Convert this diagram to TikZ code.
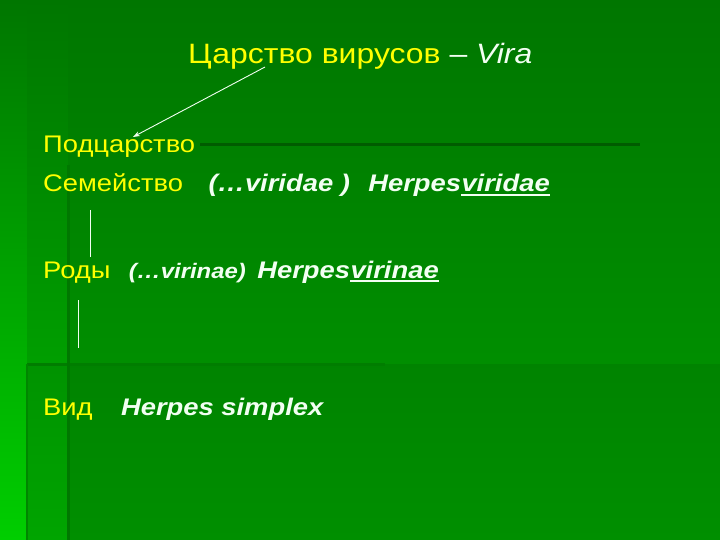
\documentclass[tikz,border=0pt]{standalone}
\usepackage{fontspec}
\setmainfont{Liberation Sans}[FakeStretch=1.14]
\usetikzlibrary{arrows.meta}

\definecolor{rankyellow}{RGB}{255,255,0}
\definecolor{latinwhite}{RGB}{242,255,242}
\definecolor{bgtop}{RGB}{0,118,0}
\definecolor{bgbottom}{RGB}{0,154,0}
\definecolor{edgebright}{RGB}{0,206,0}
\definecolor{edgemid}{RGB}{0,178,0}
\definecolor{barshade}{RGB}{0,92,0}
\definecolor{postshade}{RGB}{0,120,0}

\begin{document}
\begin{tikzpicture}[x=1pt, y=-1pt,
  rank node/.style={text=rankyellow, inner sep=0pt, anchor=base west,
    font=\fontsize{24}{28}\selectfont},
  latin node/.style={text=latinwhite, inner sep=0pt, anchor=base west,
    font=\fontsize{24}{28}\selectfont\bfseries\itshape},
  link/.style={draw=latinwhite, line width=0.9pt},
  rule/.style={draw=latinwhite, line width=1.6pt}]
\useasboundingbox (0,0) rectangle (720,540);

% slide background
\shade[top color=bgtop, bottom color=bgbottom] (0,0) rectangle (720,540);
\shade[top color=bgtop, bottom color=edgebright] (0,0) rectangle (27,540);
\shade[top color=bgtop, bottom color=edgemid] (27,0) rectangle (68,540);
\fill[black, opacity=0.07] (27,364) rectangle (720,540);
\draw[line width=3pt, barshade] (200,145) -- (640,145);
\draw[line width=3pt, barshade!80!green] (27,364) -- (385,364);
\draw[line width=3pt, postshade] (68,165) -- (68,540);
\draw[line width=1.5pt, postshade!90!green] (27,364) -- (27,540);

% ranks
\node[rank node, font=\fontsize{28}{32}\selectfont] (kingdom) at (188,64)
  {Царство вирусов {\color{latinwhite}– \textit{Vira}}};
\node[rank node] (subkingdom) at (43,153) {Подцарство};
\node[rank node] (family)     at (43,192) {Семейство};
\node[rank node] (genus)      at (43,278) {Роды};
\node[rank node] (species)    at (43,415) {Вид};

% latin names
\node[latin node] (famsuffix) at ([xshift=25pt]family.base east) {(…viridae )};
\node[latin node] (famstem)   at ([xshift=18pt]famsuffix.base east) {Herpes};
\node[latin node] (famend)    at (famstem.base east) {viridae};
\node[latin node, font=\fontsize{21}{24}\selectfont\bfseries\itshape] (gensuffix)
  at ([xshift=18pt]genus.base east) {(…virinae)};
\node[latin node] (genstem)   at ([xshift=11pt]gensuffix.base east) {Herpes};
\node[latin node] (genend)    at (genstem.base east) {virinae};
\node[latin node] (specname)  at ([xshift=28pt]species.base east) {Herpes simplex};

% underlines
\draw[rule] ([yshift=-3pt]famend.base west) -- ([yshift=-3pt]famend.base east);
\draw[rule] ([yshift=-3pt]genend.base west) -- ([yshift=-3pt]genend.base east);

% links
\draw[link, -{Stealth[length=7pt, width=5pt]}]
  ([xshift=77pt, yshift=-3pt]kingdom.base west) -- ([xshift=90pt, yshift=16pt]subkingdom.base west);
\draw[link] ([xshift=47pt, yshift=-18pt]family.base west) -- ([xshift=47pt, yshift=21pt]genus.base west);
\draw[link] ([xshift=35pt, yshift=-22pt]genus.base west) -- ([xshift=35pt, yshift=67pt]species.base west);
\end{tikzpicture}
\end{document}
